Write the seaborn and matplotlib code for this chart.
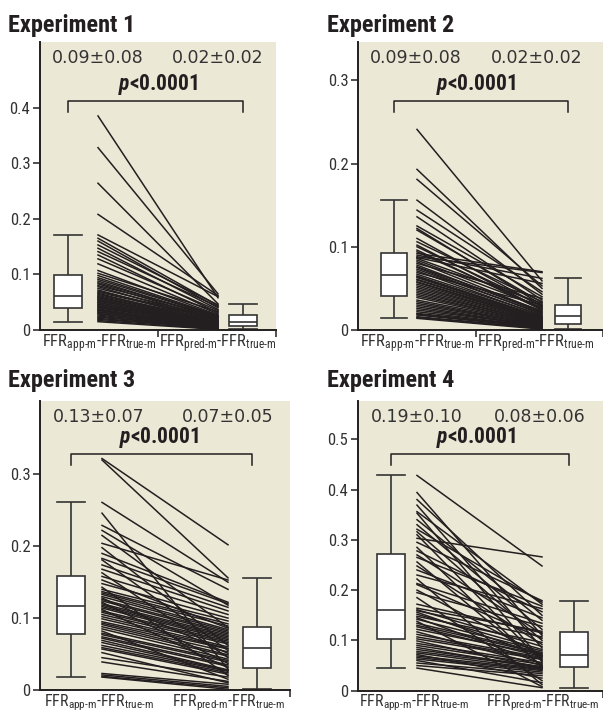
import numpy as np
import pandas as pd
import matplotlib
matplotlib.use("Agg")
import matplotlib.pyplot as plt
import matplotlib.transforms as mtransforms
from matplotlib import font_manager as fm
import seaborn as sns

# ---------------- data ----------------
EXPERIMENTS = ["Experiment 1", "Experiment 2", "Experiment 3", "Experiment 4"]
MEAN_SD_APP = ["0.09\u00b10.08", "0.09\u00b10.08", "0.13\u00b10.07", "0.19\u00b10.10"]
MEAN_SD_PRED = ["0.02\u00b10.02", "0.02\u00b10.02", "0.07\u00b10.05", "0.08\u00b10.06"]
P_TEXT = r"$\mathbfit{p}$<0.0001"
CAT_LABELS = [r"FFR$_{\text{app-m}}$-FFR$_{\text{true-m}}$",
              r"FFR$_{\text{pred-m}}$-FFR$_{\text{true-m}}$"]
Y_TICKS = [[0, 0.1, 0.2, 0.3, 0.4], [0, 0.1, 0.2, 0.3],
           [0, 0.1, 0.2, 0.3], [0, 0.1, 0.2, 0.3, 0.4, 0.5]]
Y_MAX = [0.518, 0.346, 0.402, 0.576]

exp1_app = [0.385, 0.328, 0.264, 0.208, 0.171, 0.165, 0.160, 0.153, 0.147, 0.141, 0.135, 0.128, 0.119, 0.107, 0.102,
            0.098, 0.094, 0.091, 0.088, 0.085, 0.083, 0.080, 0.078, 0.075, 0.072, 0.070, 0.068, 0.066, 0.064, 0.062,
            0.060, 0.059, 0.058, 0.056, 0.055, 0.053, 0.052, 0.050, 0.049, 0.047, 0.046, 0.044, 0.043, 0.041, 0.040,
            0.038, 0.037, 0.036, 0.035, 0.033, 0.032, 0.030, 0.029, 0.027, 0.025, 0.023, 0.021, 0.019, 0.017, 0.015]
exp1_pred = [0.058, 0.065, 0.047, 0.062, 0.060, 0.044, 0.040, 0.045, 0.037, 0.042, 0.031, 0.035, 0.029, 0.027, 0.033,
             0.026, 0.025, 0.024, 0.020, 0.023, 0.018, 0.025, 0.016, 0.022, 0.014, 0.021, 0.019, 0.012, 0.017, 0.015,
             0.013, 0.011, 0.014, 0.010, 0.012, 0.009, 0.013, 0.008, 0.011, 0.007, 0.012, 0.010, 0.006, 0.009, 0.008,
             0.005, 0.007, 0.006, 0.005, 0.004, 0.005, 0.003, 0.004, 0.003, 0.002, 0.005, 0.003, 0.004, 0.002, 0.001]

exp2_app = [0.241, 0.193, 0.181, 0.156, 0.144, 0.136, 0.125, 0.122, 0.120, 0.110, 0.106, 0.102, 0.100, 0.096, 0.094,
            0.092, 0.090, 0.088, 0.087, 0.086, 0.084, 0.082, 0.080, 0.078, 0.076, 0.075, 0.073, 0.071, 0.069, 0.067,
            0.065, 0.064, 0.063, 0.061, 0.060, 0.058, 0.057, 0.055, 0.053, 0.051, 0.049, 0.047, 0.045, 0.043, 0.041,
            0.039, 0.036, 0.034, 0.032, 0.030, 0.028, 0.026, 0.024, 0.022, 0.020, 0.019, 0.018, 0.016, 0.015, 0.014]
exp2_pred = [0.059, 0.050, 0.053, 0.043, 0.046, 0.036, 0.040, 0.030, 0.033, 0.028, 0.034, 0.025, 0.029, 0.024, 0.026,
             0.070, 0.062, 0.069, 0.056, 0.032, 0.027, 0.022, 0.038, 0.021, 0.023, 0.019, 0.020, 0.017, 0.030, 0.018,
             0.016, 0.015, 0.015, 0.014, 0.014, 0.013, 0.012, 0.012, 0.011, 0.011, 0.010, 0.009, 0.009, 0.008, 0.008,
             0.007, 0.007, 0.006, 0.006, 0.006, 0.005, 0.005, 0.005, 0.004, 0.004, 0.003, 0.003, 0.002, 0.002, 0.001]

exp3_app = [0.322, 0.320, 0.261, 0.246, 0.229, 0.222, 0.215, 0.204, 0.198, 0.190, 0.183, 0.181, 0.174, 0.168, 0.163,
            0.158, 0.153, 0.148, 0.143, 0.140, 0.137, 0.135, 0.133, 0.130, 0.128, 0.126, 0.124, 0.122, 0.120, 0.118,
            0.116, 0.114, 0.112, 0.110, 0.108, 0.105, 0.102, 0.099, 0.095, 0.093, 0.091, 0.088, 0.085, 0.082, 0.079,
            0.077, 0.074, 0.072, 0.069, 0.066, 0.062, 0.059, 0.057, 0.052, 0.045, 0.039, 0.023, 0.021, 0.019, 0.018]
exp3_pred = [0.202, 0.156, 0.150, 0.029, 0.140, 0.118, 0.087, 0.153, 0.062, 0.122, 0.120, 0.055, 0.115, 0.110, 0.045,
             0.105, 0.086, 0.100, 0.020, 0.096, 0.092, 0.089, 0.084, 0.082, 0.051, 0.080, 0.078, 0.037, 0.076, 0.074,
             0.072, 0.070, 0.031, 0.068, 0.066, 0.064, 0.060, 0.058, 0.057, 0.053, 0.049, 0.047, 0.043, 0.015, 0.041,
             0.039, 0.035, 0.033, 0.028, 0.027, 0.026, 0.024, 0.022, 0.010, 0.018, 0.012, 0.008, 0.005, 0.003, 0.001]

exp4_app = [0.428, 0.394, 0.380, 0.369, 0.356, 0.353, 0.340, 0.330, 0.321, 0.316, 0.310, 0.303, 0.295, 0.285, 0.278,
            0.270, 0.265, 0.256, 0.248, 0.240, 0.230, 0.222, 0.213, 0.211, 0.200, 0.195, 0.185, 0.172, 0.164, 0.161,
            0.159, 0.156, 0.152, 0.148, 0.145, 0.142, 0.138, 0.134, 0.130, 0.127, 0.122, 0.117, 0.112, 0.107, 0.103,
            0.099, 0.094, 0.090, 0.086, 0.082, 0.078, 0.075, 0.072, 0.069, 0.066, 0.063, 0.060, 0.055, 0.050, 0.045]
exp4_pred = [0.248, 0.110, 0.150, 0.085, 0.172, 0.060, 0.140, 0.122, 0.176, 0.100, 0.058, 0.266, 0.179, 0.046, 0.157,
             0.113, 0.168, 0.049, 0.092, 0.145, 0.163, 0.012, 0.134, 0.104, 0.070, 0.128, 0.020, 0.115, 0.118, 0.088,
             0.107, 0.069, 0.082, 0.096, 0.054, 0.079, 0.008, 0.076, 0.074, 0.068, 0.072, 0.050, 0.066, 0.064, 0.062,
             0.045, 0.056, 0.052, 0.044, 0.048, 0.047, 0.043, 0.025, 0.042, 0.040, 0.037, 0.016, 0.034, 0.030, 0.006]

APP = [exp1_app, exp2_app, exp3_app, exp4_app]
PRED = [exp1_pred, exp2_pred, exp3_pred, exp4_pred]

# ---------------- layout / style ----------------
W, H = 603, 714
names = {f.name for f in fm.fontManager.ttflist}


def pick(cands, default="Liberation Sans"):
    for c in cands:
        if c in names:
            return c
    return default


NARROW = pick(["Roboto Condensed", "Archivo Narrow", "Asap Condensed", "Barlow Condensed",
               "Liberation Sans Narrow"])

plt.rcParams["mathtext.fontset"] = "custom"
plt.rcParams["mathtext.rm"] = NARROW
plt.rcParams["mathtext.it"] = NARROW + ":italic"
plt.rcParams["mathtext.bf"] = NARROW + ":bold"
plt.rcParams["mathtext.bfit"] = NARROW + ":italic:bold"

BEIGE = "#ECE8D6"
INK = "#231f20"
GRAY = "#333333"

PANELS = [
    dict(l=40, r=276, t=42, b=330, b1=68, b2=243, s=98, e=218, mid=158, lab=(99, 218),
         hdr=(98, 218), px=158, py=0.854, by=0.796, bd=0.757, title=(8, 32), fs=12),
    dict(l=358, r=603, t=42, b=330, b1=394, b2=568, s=417, e=542, mid=476, lab=(417, 536),
         hdr=(416, 537), px=476, py=0.854, by=0.796, bd=0.756, title=(327, 32), fs=12),
    dict(l=40, r=290, t=401, b=690, b1=71, b2=257, s=102, e=228, mid=None, lab=(99, 229),
         hdr=(99, 228), px=159, py=0.874, by=0.816, bd=0.778, title=(8, 387), fs=11.5),
    dict(l=358, r=603, t=401, b=690.7, b1=391, b2=574, s=417, e=542, mid=None, lab=(414, 543),
         hdr=(417, 540), px=476, py=0.873, by=0.816, bd=0.778, title=(327, 387), fs=11.5),
]

fig = plt.figure(figsize=(W / 100, H / 100), dpi=100)

for i, P in enumerate(PANELS):
    ax = fig.add_axes([P["l"] / W, 1 - P["b"] / H, (P["r"] - P["l"]) / W, (P["b"] - P["t"]) / H])
    d = P["b2"] - P["b1"]
    tox = lambda px: (px - P["b1"]) / d
    xs, xe = tox(P["s"]), tox(P["e"])

    app = APP[i]
    pred = PRED[i]
    n = len(app)
    box_df = pd.DataFrame({"pos": [0.0] * n + [1.0] * n, "value": app + pred})
    line_df = pd.DataFrame({"id": list(range(n)) * 2,
                            "x": [xs] * n + [xe] * n,
                            "value": app + pred})

    sns.boxplot(data=box_df, x="pos", y="value", native_scale=True, width=0.155,
                showfliers=False, whis=1.5, color="white", saturation=1,
                linecolor=GRAY, linewidth=1.2, capwidths=0.155, ax=ax)
    sns.lineplot(data=line_df, x="x", y="value", units="id", estimator=None,
                 color=INK, linewidth=1.1, ax=ax, legend=False)

    ax.set_facecolor(BEIGE)
    ax.set_xlim(tox(P["l"]), tox(P["r"]))
    ax.set_ylim(0, Y_MAX[i])
    ax.set_xlabel("")
    ax.set_ylabel("")
    for side in ("top", "right"):
        ax.spines[side].set_visible(False)
    for side in ("left", "bottom"):
        ax.spines[side].set_color(INK)
        ax.spines[side].set_linewidth(1.4)

    ax.set_yticks(Y_TICKS[i])
    ax.set_yticklabels(["0" if v == 0 else f"{v:.1f}" for v in Y_TICKS[i]],
                       fontfamily=NARROW, fontsize=12, color=GRAY)
    ax.tick_params(axis="y", direction="out", length=5, width=1.1, color=INK, pad=2)

    ax.set_xticks([tox(P["lab"][0]), tox(P["lab"][1])])
    ax.set_xticklabels(CAT_LABELS, fontfamily=NARROW, fontsize=P["fs"], color=GRAY)
    ax.tick_params(axis="x", which="major", length=0, pad=1.5)
    minors = [tox(P["r"]) - 0.002] if P["mid"] is None else [tox(P["mid"]), tox(P["r"]) - 0.002]
    ax.set_xticks(minors, minor=True)
    ax.tick_params(axis="x", which="minor", direction="out", length=5, width=1.1, color=INK)

    trans = mtransforms.blended_transform_factory(ax.transData, ax.transAxes)
    ax.text(tox(P["hdr"][0]), 0.945, MEAN_SD_APP[i], transform=trans, ha="center", va="center",
            fontsize=12.5, color=GRAY, fontfamily="DejaVu Sans")
    ax.text(tox(P["hdr"][1]), 0.945, MEAN_SD_PRED[i], transform=trans, ha="center", va="center",
            fontsize=12.5, color=GRAY, fontfamily="DejaVu Sans")
    ax.text(tox(P["px"]), P["py"], P_TEXT, transform=trans, ha="center", va="center",
            fontsize=15.5, fontweight="bold", color=INK, fontfamily=NARROW)
    bx0, bx1 = 0.0, 1.0
    if i >= 2:
        bx1 = tox(P["b2"] - 5)
    ax.plot([bx0, bx0, bx1, bx1], [P["bd"], P["by"], P["by"], P["bd"]], transform=trans,
            color=INK, linewidth=1.1, clip_on=False)

    fig.text(P["title"][0] / W, 1 - P["title"][1] / H, EXPERIMENTS[i], ha="left", va="baseline",
             fontsize=17.5, fontweight="bold", color=INK, fontfamily=NARROW)

fig.savefig("out.png", dpi=100, facecolor="white")
